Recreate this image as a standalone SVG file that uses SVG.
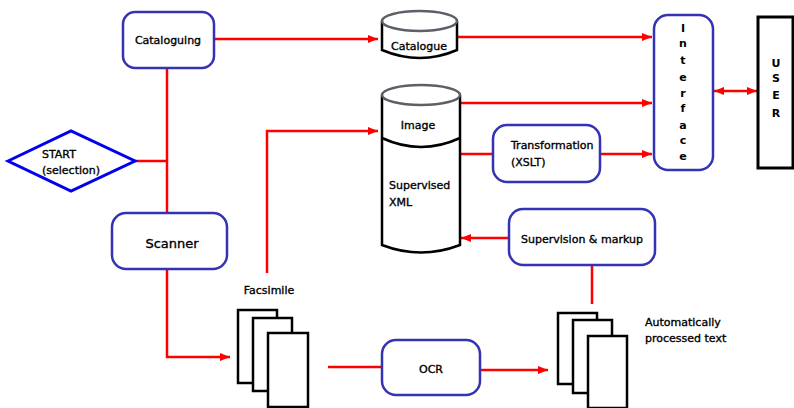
<svg xmlns="http://www.w3.org/2000/svg" width="794" height="408" viewBox="0 0 794 408">
<style>
.box{fill:#fff;stroke:#3333b4;stroke-width:2.5}
.cyl{fill:#fff;stroke:#000;stroke-width:2.5}
.cyltop{fill:#fff;stroke:#5a6066;stroke-width:2.5}
.page{fill:#fff;stroke:#000;stroke-width:2.5}
.c{fill:none;stroke:#ff0000;stroke-width:2.5}
text{font-family:"DejaVu Sans","Liberation Sans",sans-serif;font-size:11px;fill:#000;stroke:#000;stroke-width:0.35}
.m{text-anchor:middle}
.b text{font-weight:bold;stroke-width:0}
</style>
<defs>
<marker id="ah" markerUnits="userSpaceOnUse" markerWidth="10" markerHeight="10" viewBox="0 0 10 10" refX="10" refY="5" orient="auto">
<path d="M0,1 L10,5 L0,9 Z" fill="#ff0000"/>
</marker>
<marker id="as" markerUnits="userSpaceOnUse" markerWidth="10" markerHeight="10" viewBox="0 0 10 10" refX="0" refY="5" orient="auto">
<path d="M10,1 L0,5 L10,9 Z" fill="#ff0000"/>
</marker>
</defs>
<g id="connectors">
<path class="c" d="M214,39 L378,39" marker-end="url(#ah)"/>
<path class="c" d="M167,68 L167,213"/>
<path class="c" d="M135,161 L167,161"/>
<path class="c" d="M167,269 L167,357 L230,357" marker-end="url(#ah)"/>
<path class="c" d="M267,273 L267,131 L378,131" marker-end="url(#ah)"/>
<path class="c" d="M328,367 L382,367"/>
<path class="c" d="M480,370 L548,370" marker-end="url(#ah)"/>
<path class="c" d="M592,304 L592,265"/>
<path class="c" d="M509,238 L461,238" marker-end="url(#ah)"/>
<path class="c" d="M457,37 L652,37" marker-end="url(#ah)"/>
<path class="c" d="M460,103 L652,103" marker-end="url(#ah)"/>
<path class="c" d="M460,154 L493,154"/>
<path class="c" d="M600,154 L652,154" marker-end="url(#ah)"/>
<path class="c" d="M714,91 L757,91" marker-start="url(#as)" marker-end="url(#ah)"/>
</g>
<g id="cataloguing">
<rect class="box" x="123" y="12" width="91" height="56" rx="12"/>
<text class="m" x="168" y="44">Cataloguing</text>
</g>
<g id="start">
<polygon points="8,161 71,131 135,161 71,191" fill="#fff" stroke="#0000ee" stroke-width="3"/>
<text x="42" y="158">START</text>
<text x="42" y="174">(selection)</text>
</g>
<g id="scanner">
<rect class="box" x="112" y="213" width="115" height="56" rx="14"/>
<text class="m" x="172" y="248" style="font-size:13px">Scanner</text>
</g>
<g id="facsimile">
<rect class="page" x="238" y="310" width="39" height="73"/>
<rect class="page" x="253" y="318" width="39" height="73"/>
<rect class="page" x="268" y="333" width="40" height="74"/>
<text class="m" x="269" y="294">Facsimile</text>
</g>
<g id="ocr">
<rect class="box" x="382" y="340" width="98" height="55" rx="14"/>
<text class="m" x="431" y="373">OCR</text>
</g>
<g id="auto">
<rect class="page" x="558" y="313" width="39" height="71"/>
<rect class="page" x="573" y="320" width="39" height="73"/>
<rect class="page" x="588" y="336" width="39" height="72"/>
<text x="645" y="326">Automatically</text>
<text x="645" y="342">processed text</text>
</g>
<g id="supervision">
<rect class="box" x="509" y="209" width="146" height="56" rx="14"/>
<text class="m" x="582" y="243">Supervision &amp; markup</text>
</g>
<g id="catalogue">
<path class="cyl" d="M382,21 L382,50 Q420,66 457,50 L457,21"/>
<ellipse class="cyltop" cx="419.5" cy="21" rx="37.5" ry="10"/>
<text class="m" x="419" y="50">Catalogue</text>
</g>
<g id="store">
<path class="cyl" d="M382,95 L382,245 Q421,260 460,245 L460,95"/>
<path fill="none" stroke="#000" stroke-width="2.5" d="M382,138 Q421,156 460,138"/>
<ellipse class="cyltop" cx="421" cy="95" rx="39" ry="10"/>
<text class="m" x="418" y="129">Image</text>
<text x="389" y="189">Supervised</text>
<text x="389" y="206">XML</text>
</g>
<g id="transformation">
<rect class="box" x="493" y="125" width="107" height="57" rx="14"/>
<text x="511" y="149">Transformation</text>
<text x="511" y="166">(XSLT)</text>
</g>
<g id="interface">
<rect class="box" x="654" y="15" width="59" height="155" rx="14"/>
<g class="m b">
<text x="683" y="32">I</text>
<text x="683" y="47">n</text>
<text x="683" y="64">t</text>
<text x="683" y="81">e</text>
<text x="683" y="97">r</text>
<text x="683" y="112">f</text>
<text x="683" y="129">a</text>
<text x="683" y="144">c</text>
<text x="683" y="160">e</text>
</g>
</g>
<g id="user">
<rect x="758" y="17" width="35" height="151" fill="#fff" stroke="#000" stroke-width="3"/>
<g class="m b" style="font-size:12px">
<text x="776" y="67">U</text>
<text x="776" y="82">S</text>
<text x="776" y="99">E</text>
<text x="776" y="117">R</text>
</g>
</g>
</svg>
